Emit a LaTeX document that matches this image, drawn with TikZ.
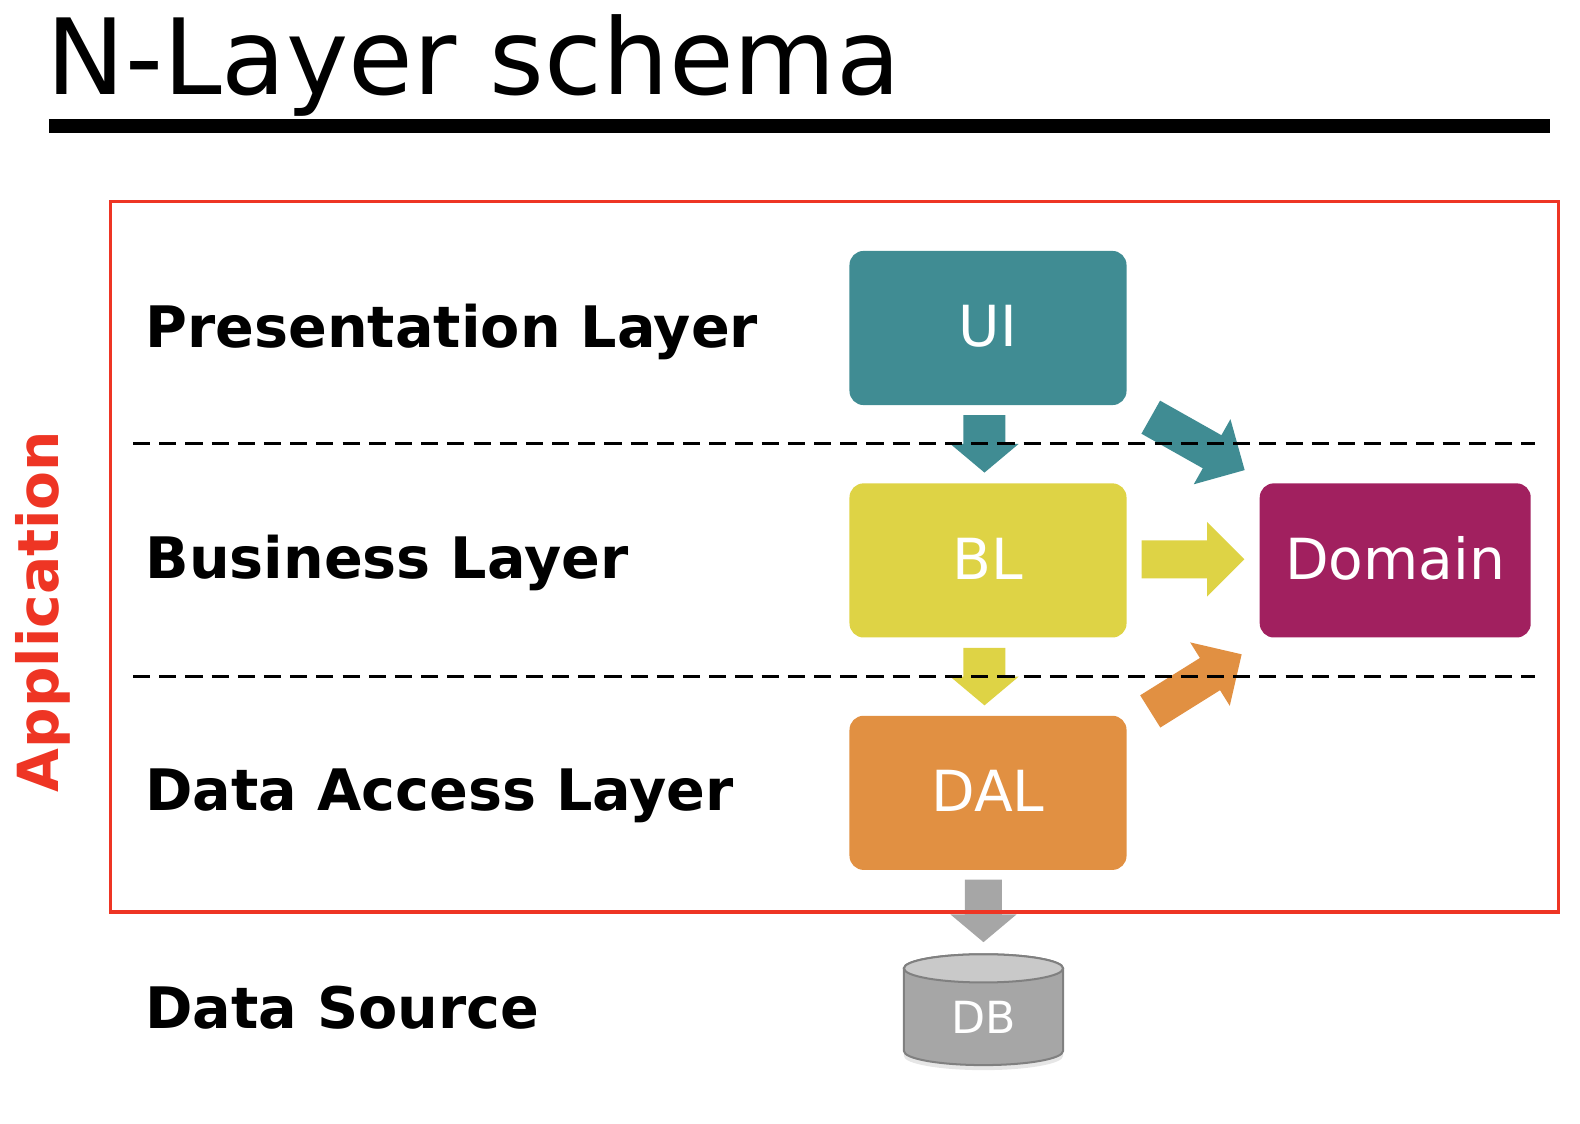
\documentclass[tikz,border=0pt]{standalone}
\usepackage{fontspec}
\setmainfont{DejaVu Sans}
\usetikzlibrary{positioning, shapes.arrows, shadows}
\definecolor{uiteal}{HTML}{408C93}
\definecolor{blyellow}{HTML}{DED345}
\definecolor{dalorange}{HTML}{E19042}
\definecolor{dommagenta}{HTML}{A1205F}
\definecolor{appred}{HTML}{EE3524}
\definecolor{dbgray}{HTML}{A6A6A6}
\tikzset{
	x=0.02cm,
	y=-0.02cm,
	layerbox/.style={rounded corners=0.28cm, minimum width=5.5cm, minimum height=3.06cm, text depth=0.08cm, text=white, font=\fontsize{32}{32}\selectfont},
	layerlabel/.style={anchor=base west, inner sep=0pt, font=\fontsize{32.3}{32.3}\selectfont\bfseries},
	layerline/.style={line width=0.06cm, dash pattern=on 0.34cm off 0.18cm},
	downarrow/.style={single arrow, anchor=tail, rotate=-90, inner xsep=0pt, inner ysep=0.41cm, outer sep=0pt, minimum height=1.14cm, single arrow head extend=0.26cm, single arrow tip angle=100, single arrow head indent=0pt},
	sidearrow/.style={single arrow, anchor=tail, inner xsep=0pt, inner ysep=0.37cm, outer sep=0pt, minimum height=2.14cm, single arrow head extend=0.365cm, single arrow tip angle=90, single arrow head indent=0pt}}

\begin{document}
\begin{tikzpicture}
	\useasboundingbox (0,0) rectangle (1568,1115.4);

	\node[anchor=base west, inner sep=0pt, font=\fontsize{59.4}{59.4}\selectfont] (title) at (46,94) {N-Layer schema};
	\coordinate (ruleleft) at (48.5,125);
	\coordinate (ruleright) at (1538,125);
	\draw[line width=0.28cm] (ruleleft) -- (ruleright);

	% boxes
	\node[layerbox, fill=uiteal] (ui) at (980.5,325.5) {UI};
	\node[layerbox, fill=blyellow, below=1.54cm of ui] (bl) {BL};
	\node[layerbox, fill=dalorange, below=1.54cm of bl] (dal) {DAL};
	\node[layerbox, fill=dommagenta, minimum width=5.38cm, right=2.63cm of bl] (domain) {Domain};

	\node[layerlabel] (presentation) at (144,345) {Presentation Layer};
	\node[layerlabel] (business) at (144,574) {Business Layer};
	\node[layerlabel] (dataaccess) at (144,804) {Data Access Layer};
	\node[layerlabel] (datasource) at (144,1021) {Data Source};

	% database
	\draw[fill=dbgray, draw=black!50, line width=0.04cm, drop shadow={shadow xshift=0pt, shadow yshift=-0.1cm, opacity=0.2}]
		(897,961) -- (897,1043) arc[start angle=180, end angle=360, x radius=1.58cm, y radius=0.28cm] -- (1055,961) arc[start angle=0, end angle=180, x radius=1.58cm, y radius=0.28cm] -- cycle;
	\draw[fill=black!21, draw=black!50, line width=0.04cm] (976,961) ellipse[x radius=1.58cm, y radius=0.28cm];
	\node[text=white, font=\fontsize{25}{25}\selectfont] (db) at (976,1010) {DB};

	% arrows
	\node[downarrow, fill=uiteal] (uibl) at (977,412) {};
	\node[downarrow, fill=blyellow] (bldal) at (977,643) {};
	\node[downarrow, fill=dbgray, inner ysep=0.36cm, minimum height=1.24cm, single arrow head extend=0.29cm] (daldb) at (976,873) {};
	\node[sidearrow, fill=uiteal, rotate=-29.4] (uidomain) at (1142,414) {};
	\node[sidearrow, fill=blyellow, minimum height=2.04cm] (bldomain) at (1133,555) {};
	\node[sidearrow, fill=dalorange, rotate=32] (daldomain) at (1141.5,706) {};

	% dashed lines between the layers
	\coordinate (firstleft) at (132,440.5);
	\coordinate (firstright) at (1523,440.5);
	\coordinate (secondleft) at (132,671.5);
	\coordinate (secondright) at (1523,671.5);
	\draw[layerline] (firstleft) -- (firstright);
	\draw[layerline] (secondleft) -- (secondright);

	\node[draw=appred, line width=0.07cm, minimum width=28.74cm, minimum height=14.1cm, inner sep=0pt] (frame) at (828.2,552.5) {};
	\node[anchor=base, rotate=90, inner sep=0pt, text=appred, font=\fontsize{32}{32}\selectfont\bfseries] (application) at (58,607) {Application};
\end{tikzpicture}
\end{document}
